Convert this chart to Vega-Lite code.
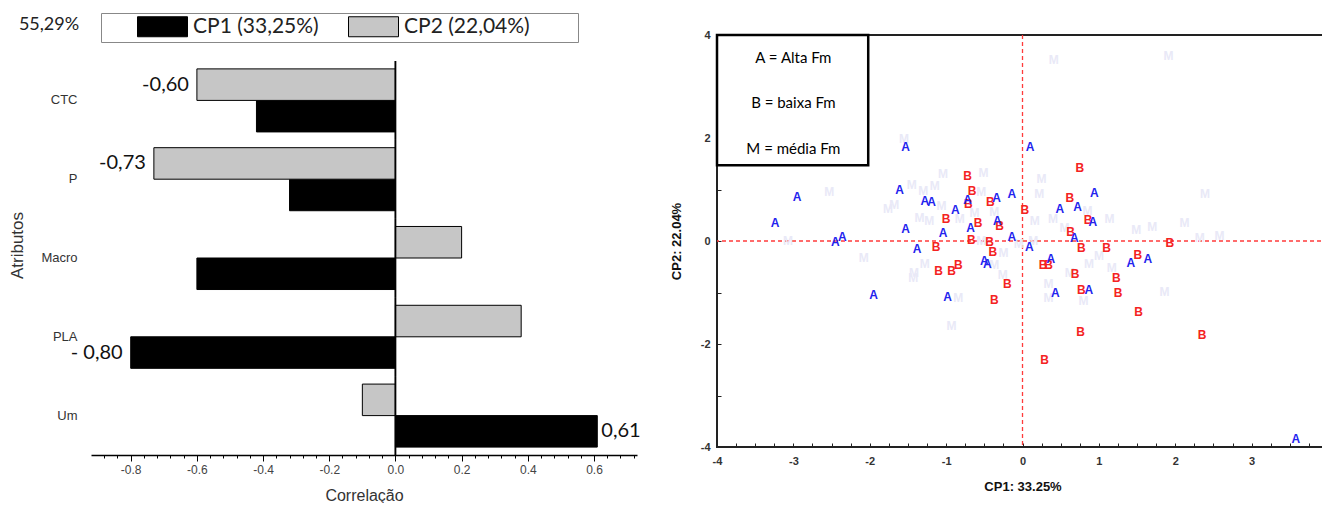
{
  "$schema": "https://vega.github.io/schema/vega-lite/v6.json",
  "background": "white",
  "padding": {"left": 8, "top": 12, "right": 0, "bottom": 0},
  "spacing": 28,
  "datasets": {
    "bars": [
      {"attr": "CTC", "cp": "CP1", "val": -0.42},
      {"attr": "CTC", "cp": "CP2", "val": -0.60, "label": "-0,60"},
      {"attr": "P", "cp": "CP1", "val": -0.32},
      {"attr": "P", "cp": "CP2", "val": -0.73, "label": "-0,73"},
      {"attr": "Macro", "cp": "CP1", "val": -0.60},
      {"attr": "Macro", "cp": "CP2", "val": 0.20},
      {"attr": "PLA", "cp": "CP1", "val": -0.80, "label": "- 0,80"},
      {"attr": "PLA", "cp": "CP2", "val": 0.38},
      {"attr": "Um", "cp": "CP1", "val": 0.61, "label": "0,61"},
      {"attr": "Um", "cp": "CP2", "val": -0.10}
    ],
    "pts": [
      {"g": "M", "x": -1.55, "y": 1.98}, {"g": "M", "x": -2.53, "y": 0.95}, {"g": "M", "x": -1.68, "y": 0.70},
      {"g": "M", "x": -3.07, "y": 0.0}, {"g": "M", "x": -2.08, "y": -0.33}, {"g": "M", "x": -1.42, "y": -0.62},
      {"g": "M", "x": -1.04, "y": 1.30}, {"g": "M", "x": -0.51, "y": 1.32}, {"g": "M", "x": -1.15, "y": 1.07},
      {"g": "M", "x": 0.25, "y": 1.20}, {"g": "M", "x": -1.30, "y": 0.97}, {"g": "M", "x": -0.54, "y": 0.95},
      {"g": "M", "x": 0.22, "y": 0.91}, {"g": "M", "x": -1.06, "y": 0.68}, {"g": "M", "x": 0.85, "y": 0.58},
      {"g": "M", "x": 1.14, "y": 0.43}, {"g": "M", "x": -1.35, "y": 0.45}, {"g": "M", "x": -1.22, "y": 0.39},
      {"g": "M", "x": -0.82, "y": 0.43}, {"g": "M", "x": -0.63, "y": 0.54}, {"g": "M", "x": -0.37, "y": 0.56},
      {"g": "M", "x": 0.40, "y": 0.43}, {"g": "M", "x": 0.55, "y": 0.25}, {"g": "M", "x": 0.16, "y": 0.39},
      {"g": "M", "x": -0.54, "y": 0.0}, {"g": "M", "x": -0.25, "y": -0.23}, {"g": "M", "x": -0.05, "y": -0.06},
      {"g": "M", "x": 0.14, "y": 0.0}, {"g": "M", "x": -1.28, "y": -0.45}, {"g": "M", "x": -1.43, "y": -0.72},
      {"g": "M", "x": 0.87, "y": -0.45}, {"g": "M", "x": 1.0, "y": -0.29}, {"g": "M", "x": 1.17, "y": -0.52},
      {"g": "M", "x": 2.39, "y": 0.91}, {"g": "M", "x": 1.49, "y": 0.21}, {"g": "M", "x": 1.70, "y": 0.27},
      {"g": "M", "x": 2.12, "y": 0.35}, {"g": "M", "x": 2.32, "y": 0.06}, {"g": "M", "x": 2.58, "y": 0.10},
      {"g": "M", "x": 0.41, "y": 3.51}, {"g": "M", "x": 1.91, "y": 3.59}, {"g": "M", "x": -0.93, "y": -1.65},
      {"g": "M", "x": -0.84, "y": -1.11}, {"g": "M", "x": 1.86, "y": -0.99}, {"g": "M", "x": 0.34, "y": -0.83},
      {"g": "M", "x": 0.34, "y": -1.11}, {"g": "M", "x": 0.80, "y": -1.17}, {"g": "M", "x": 0.62, "y": -0.62},
      {"g": "M", "x": -0.26, "y": -0.66}, {"g": "M", "x": -0.37, "y": -0.47}, {"g": "M", "x": -1.76, "y": 0.62},
      {"g": "M", "x": -1.45, "y": 1.08},
      {"g": "B", "x": 0.75, "y": 1.42}, {"g": "B", "x": -0.72, "y": 1.26}, {"g": "B", "x": -0.66, "y": 0.97},
      {"g": "B", "x": -0.42, "y": 0.76}, {"g": "B", "x": -0.71, "y": 0.72}, {"g": "B", "x": 0.03, "y": 0.60},
      {"g": "B", "x": 0.62, "y": 0.83}, {"g": "B", "x": -1.0, "y": 0.43}, {"g": "B", "x": -0.58, "y": 0.35},
      {"g": "B", "x": -0.30, "y": 0.29}, {"g": "B", "x": 0.86, "y": 0.41}, {"g": "B", "x": 0.63, "y": 0.17},
      {"g": "B", "x": -0.67, "y": 0.02}, {"g": "B", "x": -0.43, "y": -0.02}, {"g": "B", "x": -1.13, "y": -0.12},
      {"g": "B", "x": 0.77, "y": -0.14}, {"g": "B", "x": 1.10, "y": -0.14}, {"g": "B", "x": -0.39, "y": -0.21},
      {"g": "B", "x": 0.27, "y": -0.47}, {"g": "B", "x": 0.34, "y": -0.47}, {"g": "B", "x": -0.84, "y": -0.47},
      {"g": "B", "x": -0.93, "y": -0.58}, {"g": "B", "x": -1.10, "y": -0.58}, {"g": "B", "x": 0.69, "y": -0.64},
      {"g": "B", "x": 1.23, "y": -0.72}, {"g": "B", "x": -0.20, "y": -0.83}, {"g": "B", "x": 0.77, "y": -0.95},
      {"g": "B", "x": 1.25, "y": -1.01}, {"g": "B", "x": -0.37, "y": -1.15}, {"g": "B", "x": 0.76, "y": -1.77},
      {"g": "B", "x": 0.29, "y": -2.31}, {"g": "B", "x": 1.93, "y": -0.04}, {"g": "B", "x": 1.51, "y": -0.27},
      {"g": "B", "x": 1.52, "y": -1.38}, {"g": "B", "x": 2.35, "y": -1.83},
      {"g": "A", "x": -1.53, "y": 1.83}, {"g": "A", "x": -2.95, "y": 0.85}, {"g": "A", "x": -1.61, "y": 0.99},
      {"g": "A", "x": -3.24, "y": 0.35}, {"g": "A", "x": -1.53, "y": 0.23}, {"g": "A", "x": -2.45, "y": -0.02},
      {"g": "A", "x": -2.36, "y": 0.08}, {"g": "A", "x": -1.38, "y": -0.16}, {"g": "A", "x": -1.95, "y": -1.05},
      {"g": "A", "x": 0.10, "y": 1.83}, {"g": "A", "x": -0.14, "y": 0.91}, {"g": "A", "x": -0.34, "y": 0.84},
      {"g": "A", "x": 0.94, "y": 0.93}, {"g": "A", "x": -1.28, "y": 0.78}, {"g": "A", "x": -1.19, "y": 0.76},
      {"g": "A", "x": -0.72, "y": 0.80}, {"g": "A", "x": -0.88, "y": 0.60}, {"g": "A", "x": 0.49, "y": 0.62},
      {"g": "A", "x": 0.72, "y": 0.66}, {"g": "A", "x": -0.33, "y": 0.39}, {"g": "A", "x": 0.92, "y": 0.37},
      {"g": "A", "x": -0.68, "y": 0.25}, {"g": "A", "x": -1.04, "y": 0.16}, {"g": "A", "x": 0.68, "y": 0.06},
      {"g": "A", "x": -0.14, "y": 0.08}, {"g": "A", "x": 0.09, "y": -0.12}, {"g": "A", "x": -0.50, "y": -0.39},
      {"g": "A", "x": -0.46, "y": -0.45}, {"g": "A", "x": 0.37, "y": -0.35}, {"g": "A", "x": 0.87, "y": -0.95},
      {"g": "A", "x": 0.43, "y": -1.01}, {"g": "A", "x": -0.98, "y": -1.09}, {"g": "A", "x": 1.42, "y": -0.43},
      {"g": "A", "x": 1.64, "y": -0.35}, {"g": "A", "x": 3.58, "y": -3.84}
    ]
  },
  "hconcat": [
    {
      "width": 546,
      "height": 420,
      "view": {"stroke": null},
      "title": {"text": "55,29%", "anchor": "start", "frame": "bounds", "orient": "top", "offset": 0, "font": "Lato", "fontSize": 18, "fontWeight": "normal", "color": "#222", "dx": 10, "dy": -1},
      "data": {"name": "bars"},
      "resolve": {"axis": {"x": "independent"}},
      "encoding": {
        "y": {"field": "attr", "type": "nominal", "sort": ["CTC", "P", "Macro", "PLA", "Um"],
          "scale": {"paddingInner": 0, "paddingOuter": 0.165, "align": 1},
          "axis": {"title": "Atributos", "domain": false, "ticks": false, "labelPadding": 14, "labelFont": "Liberation Sans", "labelFontSize": 13, "labelColor": "#333", "titleFont": "Liberation Sans", "titleFontSize": 17, "titleFontWeight": "normal", "titleColor": "#333", "titlePadding": 14}}
      },
      "layer": [
        {
          "mark": {"type": "bar", "stroke": "black", "strokeWidth": 1},
          "encoding": {
            "yOffset": {"field": "cp", "type": "nominal", "sort": ["CP2", "CP1"], "scale": {"paddingInner": 0, "paddingOuter": 0.25}},
            "x": {"field": "val", "type": "quantitative", "scale": {"domain": [-0.92, 0.73], "nice": false},
              "axis": {"orient": "bottom", "title": "Correlação", "values": [-0.8, -0.6, -0.4, -0.2, 0, 0.2, 0.4, 0.6],
                "labelExpr": "replace(format(datum.value, '.1f'), '−', '-')",
                "labelOverlap": false, "tickSize": 6,
                "grid": false, "domainColor": "black", "domainWidth": 1.5, "tickColor": "black", "labelFont": "Liberation Sans", "labelFontSize": 12, "labelColor": "#444", "labelPadding": 3, "labelFlush": false,
                "titleFont": "Liberation Sans", "titleFontSize": 16, "titleFontWeight": "normal", "titleColor": "#333", "titlePadding": 12}},
            "x2": {"datum": 0},
            "fill": {"field": "cp", "type": "nominal", "scale": {"domain": ["CP1", "CP2"], "range": ["#000000", "#c6c6c6"]},
              "legend": {"title": " ", "titleOrient": "left", "titlePadding": 33, "titleFontSize": 17, "orient": "none", "legendX": 10, "legendY": -22, "direction": "horizontal", "strokeColor": "#888", "padding": 3,
                "symbolType": "M-2.5,-1H2.5V1H-2.5Z", "symbolSize": 400, "symbolStrokeColor": "black", "symbolStrokeWidth": 1, "symbolOffset": 15, "labelLimit": 400,
                "labelExpr": "datum.label == 'CP1' ? 'CP1 (33,25%)' : 'CP2 (22,04%)\u2800\u2800\u2800'", "labelFont": "Lato", "labelFontSize": 21, "labelColor": "#222", "labelOffset": 20, "columnPadding": 27}}
          }
        },
        {
          "mark": {"type": "bar", "stroke": "black", "strokeWidth": 1.5, "fill": "black"},
          "encoding": {
            "x": {"datum": 0, "type": "quantitative",
              "axis": {"orient": "bottom", "title": null, "labels": false, "domain": false, "grid": false, "tickSize": 3, "tickColor": "black",
                "values": [-0.88,-0.84,-0.76,-0.72,-0.68,-0.64,-0.56,-0.52,-0.48,-0.44,-0.36,-0.32,-0.28,-0.24,-0.16,-0.12,-0.08,-0.04,0.04,0.08,0.12,0.16,0.24,0.28,0.32,0.36,0.44,0.48,0.52,0.56,0.64,0.68,0.72]}},
            "x2": {"datum": 0}
          }
        },
        {
          "transform": [{"filter": "datum.label != null && datum.val < 0"}],
          "mark": {"type": "text", "align": "right", "baseline": "middle", "dx": -8, "font": "Lato", "fontSize": 20, "color": "#111"},
          "encoding": {"yOffset": {"field": "cp", "type": "nominal", "sort": ["CP2", "CP1"]}, "x": {"field": "val", "type": "quantitative", "axis": null}, "text": {"field": "label"}}
        },
        {
          "transform": [{"filter": "datum.label != null && datum.val > 0"}],
          "mark": {"type": "text", "align": "left", "baseline": "middle", "dx": 4, "font": "Lato", "fontSize": 20, "color": "#111"},
          "encoding": {"yOffset": {"field": "cp", "type": "nominal", "sort": ["CP2", "CP1"]}, "x": {"field": "val", "type": "quantitative", "axis": null}, "text": {"field": "label"}}
        }
      ]
    },
    {
      "width": 611,
      "height": 412,
      "view": {"stroke": "#222", "strokeWidth": 2},
      "encoding": {
        "x": {"type": "quantitative", "scale": {"domain": [-4, 4], "nice": false},
          "axis": {"title": "CP1: 33.25%", "domain": false, "grid": false, "values": [-4,-3.75,-3.5,-3.25,-3,-2.75,-2.5,-2.25,-2,-1.75,-1.5,-1.25,-1,-0.75,-0.5,-0.25,0,0.25,0.5,0.75,1,1.25,1.5,1.75,2,2.25,2.5,2.75,3,3.25,3.5,3.75,4],
            "labelExpr": "datum.value % 1 == 0 ? '' + datum.value : ''", "labelOverlap": false, "tickSize": -4, "tickColor": "#222", "labelPadding": 12, "labelFont": "Liberation Sans", "labelFontSize": 11, "labelFontWeight": "bold", "labelColor": "#333", "labelFlush": false,
            "titleFont": "Liberation Sans", "titleFontSize": 13, "titleFontWeight": "bold", "titleColor": "#111", "titlePadding": 14}},
        "y": {"type": "quantitative", "scale": {"domain": [-4, 4], "nice": false},
          "axis": {"title": "CP2: 22.04%", "domain": false, "grid": false, "values": [-4,-3,-2,-1,0,1,2,3,4],
            "labelExpr": "datum.value % 2 == 0 ? '' + datum.value : ''", "labelOverlap": false, "tickSize": -4, "tickColor": "#222", "labelPadding": 11, "labelFont": "Liberation Sans", "labelFontSize": 11, "labelFontWeight": "bold", "labelColor": "#333", "labelFlush": false,
            "titleFont": "Liberation Sans", "titleFontSize": 13, "titleFontWeight": "bold", "titleColor": "#111", "titlePadding": 17}}
      },
      "layer": [
        {"data": {"values": [{}]}, "mark": {"type": "rule", "color": "#ff3b3b", "strokeDash": [4, 3], "strokeWidth": 1.3}, "encoding": {"x": {"datum": 0}}},
        {"data": {"values": [{}]}, "mark": {"type": "rule", "color": "#ff3b3b", "strokeDash": [4, 3], "strokeWidth": 1.3}, "encoding": {"y": {"datum": 0}}},
        {
          "data": {"name": "pts"},
          "mark": {"type": "text", "font": "Liberation Sans", "fontSize": 12, "fontWeight": "bold", "baseline": "middle", "align": "center"},
          "encoding": {
            "x": {"field": "x", "type": "quantitative"},
            "y": {"field": "y", "type": "quantitative"},
            "text": {"field": "g"},
            "color": {"field": "g", "type": "nominal", "scale": {"domain": ["A", "B", "M"], "range": ["#2323ee", "#f42222", "#e9e9f7"]}, "legend": null}
          }
        },
        {"data": {"values": [{}]}, "mark": {"type": "rect", "fill": "white", "stroke": "black", "strokeWidth": 2.5}, "encoding": {"x": {"datum": -4}, "x2": {"datum": -2.02}, "y": {"datum": 4}, "y2": {"datum": 1.47}}},
        {"data": {"values": [{}]}, "mark": {"type": "text", "font": "Lato", "fontSize": 15, "color": "black", "baseline": "middle"}, "encoding": {"x": {"datum": -3.0}, "y": {"datum": 3.55}, "text": {"value": "A = Alta Fm"}}},
        {"data": {"values": [{}]}, "mark": {"type": "text", "font": "Lato", "fontSize": 15, "color": "black", "baseline": "middle"}, "encoding": {"x": {"datum": -3.0}, "y": {"datum": 2.68}, "text": {"value": "B = baixa Fm"}}},
        {"data": {"values": [{}]}, "mark": {"type": "text", "font": "Lato", "fontSize": 15, "color": "black", "baseline": "middle"}, "encoding": {"x": {"datum": -3.0}, "y": {"datum": 1.79}, "text": {"value": "M = média Fm"}}}
      ]
    }
  ]
}
